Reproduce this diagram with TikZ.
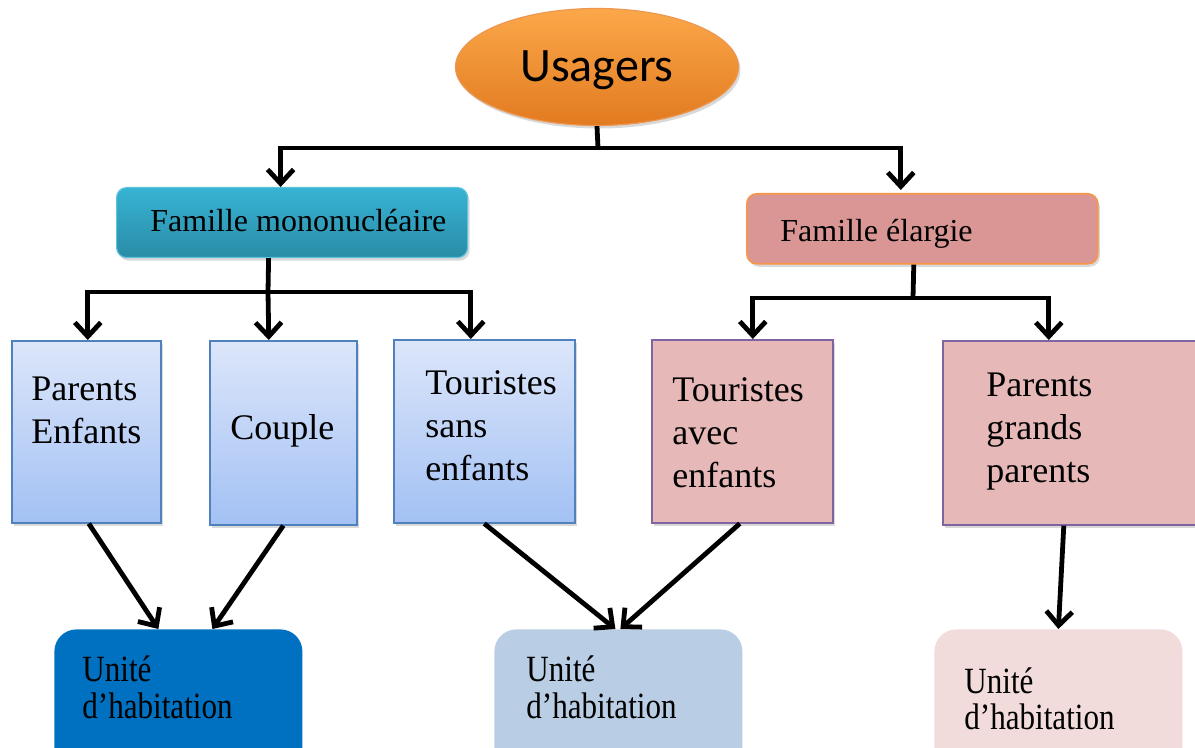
\documentclass[tikz,border=0pt]{standalone}
\usepackage{fontspec}
\usepackage{graphicx}
\setmainfont{Liberation Serif}
\newfontfamily\calib{Carlito}
\usetikzlibrary{arrows.meta,shapes.geometric,shadows,calc}
\definecolor{orangetop}{HTML}{FBA84A}
\definecolor{orangebot}{HTML}{E27A20}
\definecolor{orangeline}{HTML}{E46C0A}
\definecolor{tealtop}{HTML}{37B3D4}
\definecolor{tealbot}{HTML}{2A8CA7}
\definecolor{rosefill}{HTML}{D99694}
\definecolor{roseline}{HTML}{F79646}
\definecolor{bluetop}{HTML}{DCE6FA}
\definecolor{bluebot}{HTML}{A3C1F4}
\definecolor{blueline}{HTML}{4F81BD}
\definecolor{pinkfill}{HTML}{E6B9B8}
\definecolor{purpleline}{HTML}{8064A2}
\definecolor{unitA}{HTML}{0070C0}
\definecolor{unitB}{HTML}{B9CDE5}
\definecolor{unitC}{HTML}{F2DCDB}
\tikzset{
  line/.style={line width=2.4pt, black},
  arr/.style={line, -{Straight Barb[length=7pt,width=13pt]}},
  shad/.style={drop shadow={opacity=0.3, shadow xshift=1pt, shadow yshift=-1.5pt}},
  famA/.style={anchor=north west, inner sep=0pt, rounded corners=5pt, top color=tealtop, bottom color=tealbot, draw=tealtop!80!white, line width=0.6pt, shad},
  famB/.style={anchor=north west, inner sep=0pt, rounded corners=5pt, fill=rosefill, draw=roseline, line width=0.8pt, shad},
  bluebox/.style={anchor=north west, inner sep=0pt, top color=bluetop, bottom color=bluebot, draw=blueline, line width=0.8pt, shad},
  pinkbox/.style={anchor=north west, inner sep=0pt, fill=pinkfill, draw=purpleline, line width=0.8pt, shad},
  unitbox/.style={anchor=north west, inner sep=0pt, rounded corners=11pt, minimum width=124pt, minimum height=75pt},
  txt/.style={anchor=base west, inner sep=0pt, font=\fontsize{18}{21.5}\selectfont},
  ftxt/.style={anchor=base west, inner sep=0pt, font=\fontsize{16}{19}\selectfont},
  utxt/.style={anchor=base west, inner sep=0pt, font=\fontsize{18.5}{17.5}\selectfont}
}
\begin{document}
\begin{tikzpicture}[x=0.5pt,y=-0.5pt]
\useasboundingbox (0,0) rectangle (1195,748);
\clip (0,0) rectangle (1195,748);

% top ellipse
\node[ellipse, minimum width=141.5pt, minimum height=58.5pt, inner sep=0pt,
      top color=orangetop, bottom color=orangebot, draw=orangeline!70!white, line width=0.6pt, shad,
      font=\calib\fontsize{24}{28}\selectfont, text depth=1pt] (us) at (597,67) {Usagers};

% family boxes
\node[famA, minimum width=175.5pt, minimum height=35pt] (mono) at (116,187) {};
\node[famB, minimum width=175.5pt, minimum height=35pt] (elarg) at (746,193) {};
\node[ftxt] (tmono) at (150,232) {Famille mononucléaire};
\node[ftxt] (telarg) at (780,242) {Famille élargie};

% category boxes
\node[bluebox, minimum width=74.5pt, minimum height=91pt] (pe) at (11,340) {};
\node[bluebox, minimum width=73.5pt, minimum height=92pt] (cp) at (209,340) {};
\node[bluebox, minimum width=90.5pt, minimum height=91.5pt] (tse) at (393,339) {};
\node[pinkbox, minimum width=90.5pt, minimum height=91.5pt] (tae) at (651,339) {};
\node[pinkbox, minimum width=130pt, minimum height=92pt] (pgp) at (942,340) {};

\node[txt] (tpe) at (31,401) {\begin{tabular}[t]{@{}l@{}}Parents\\Enfants\end{tabular}};
\node[txt] (tcp) at (230,440) {Couple};
\node[txt] (ttse) at (425,395) {\begin{tabular}[t]{@{}l@{}}Touristes\\sans\\enfants\end{tabular}};
\node[txt] (ttae) at (672,402) {\begin{tabular}[t]{@{}l@{}}Touristes\\avec\\enfants\end{tabular}};
\node[txt] (tpgp) at (986,397) {\begin{tabular}[t]{@{}l@{}}Parents\\grands\\parents\end{tabular}};

% unit boxes
\node[unitbox, fill=unitA] (u1) at (54,629) {};
\node[unitbox, fill=unitB] (u2) at (494,629) {};
\node[unitbox, fill=unitC] (u3) at (934,629) {};
\node[utxt] (tu1) at (82,682) {\scalebox{0.84}[1]{\begin{tabular}[t]{@{}l@{}}Unité\\d’habitation\end{tabular}}};
\node[utxt] (tu2) at (526,682) {\scalebox{0.84}[1]{\begin{tabular}[t]{@{}l@{}}Unité\\d’habitation\end{tabular}}};
\node[utxt] (tu3) at (964,693) {\scalebox{0.84}[1]{\begin{tabular}[t]{@{}l@{}}Unité\\d’habitation\end{tabular}}};

% connectors: level 1
\coordinate (b0) at (598,148);
\draw[line] (us.south) -- (b0);
\draw[arr] (b0) -| ($(mono.north)+(-11.5,0)$);
\draw[arr] (b0) -| ($(elarg.north)+(-21.5,-3)$);

% connectors: mononucleaire
\coordinate (b1) at (268,292);
\draw[line] ($(mono.south)+(-23.5,0)$) -- (b1);
\draw[arr] (b1) -| ($(pe.north)+(1.5,0)$);
\draw[arr] (b1) -- ($(cp.north)+(-14.5,0)$);
\draw[arr] (b1) -| ($(tse.north)+(-13.5,0)$);

% connectors: elargie
\coordinate (b2) at (913,298);
\draw[line] ($(elarg.south)+(-8.5,0)$) -- (b2);
\draw[arr] (b2) -| ($(tae.north)+(10.5,0)$);
\draw[arr] (b2) -| ($(pgp.north)+(-24,0)$);

% connectors to units
\draw[arr] ($(pe.south)+(2.5,0)$) -- ($(u1.north)+(-20,0)$);
\draw[arr] (cp.south) -- ($(u1.north)+(34,0)$);
\draw[arr] (tse.south) -- ($(u2.north)+(-3,0)$);
\draw[arr] ($(tae.south)+(-2.5,0)$) -- ($(u2.north)+(2,0)$);
\draw[arr] ($(pgp.south)+(-9,0)$) -- (u3.north);
\end{tikzpicture}
\end{document}
